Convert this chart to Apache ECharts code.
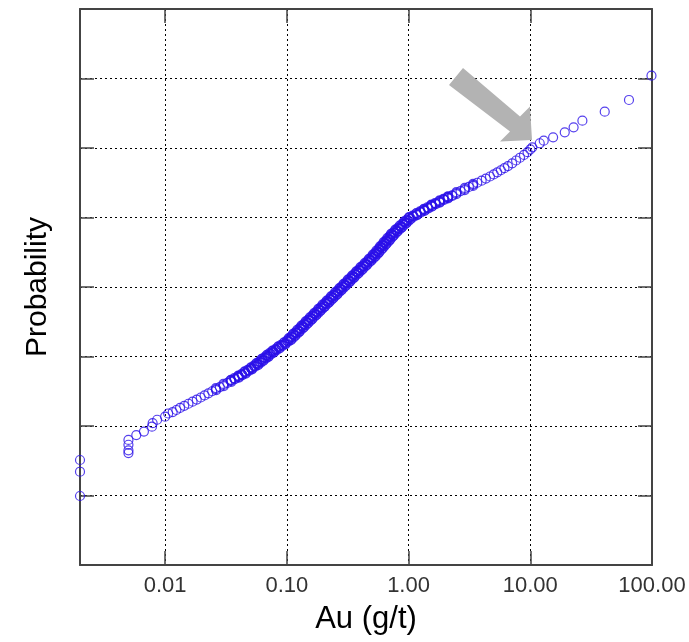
<!DOCTYPE html>
<html><head><meta charset="utf-8">
<script src="https://cdn.jsdelivr.net/npm/echarts@6/dist/echarts.min.js"></script>
<style>html,body{margin:0;padding:0;background:#fff}#c{width:689px;height:642px}</style>
</head><body><div id="c"></div>
<script>
// x-axis tick values and their printed labels
const xTickValues = [0.01, 0.1, 1, 10, 100];
const xTickLabels = ['0.01', '0.10', '1.00', '10.00', '100.00'];

// Au grades (g/t)
const auValues = [
  0.002, 0.002, 0.002,
  0.005, 0.005, 0.005, 0.005,
  0.0058, 0.0067, 0.0078, 0.0079, 0.0086, 0.0100, 0.0106,
  0.01155, 0.01238, 0.01327, 0.01436, 0.01554, 0.01682, 0.01820, 0.01963, 0.02111, 0.02267,
  0.02436, 0.02618, 0.02818, 0.03021, 0.03248, 0.03491, 0.03751, 0.04030, 0.04295, 0.04556,
  0.04833, 0.05128, 0.05436, 0.05717, 0.06004, 0.06308, 0.06626, 0.06960, 0.07311, 0.07722,
  0.08155, 0.08616, 0.09101, 0.09612, 0.1015, 0.1058, 0.1101, 0.1146, 0.1193, 0.1241,
  0.1292, 0.1344, 0.1399, 0.1456, 0.1515, 0.1577, 0.1641, 0.1708, 0.1777, 0.1849,
  0.1924, 0.2002, 0.2084, 0.2169, 0.2257, 0.2350, 0.2445, 0.2545, 0.2648, 0.2755,
  0.2868, 0.2985, 0.3106, 0.3232, 0.3363, 0.3500, 0.3643, 0.3791, 0.3945, 0.4105,
  0.4272, 0.4446, 0.4627, 0.4815, 0.5012, 0.5197, 0.5378, 0.5565, 0.5760, 0.5960,
  0.6167, 0.6383, 0.6605, 0.6834, 0.7073, 0.7318, 0.7607, 0.7932, 0.8270, 0.8623,
  0.8991, 0.9374, 0.9772, 1.019, 1.090, 1.168, 1.253, 1.344, 1.441, 1.545,
  1.667, 1.803, 1.950, 2.110, 2.283, 2.471, 2.675, 2.894, 3.133, 3.392,
  3.668, 3.987, 4.313, 4.666, 5.011, 5.357, 5.731, 6.131, 6.554, 7.10,
  7.65, 8.24, 8.88, 9.50, 10.01, 10.4,
  11.96, 12.9, 15.4, 19.2, 22.7, 26.8, 40.9, 64.7, 99
];

// normal scores (probability axis, in standard deviations)
const zScores = [
  -3.007, -2.658, -2.489,
  -2.39, -2.35, -2.27, -2.20,
  -2.13, -2.08, -2.01, -1.96, -1.91, -1.866, -1.82,
  -1.80, -1.77, -1.74, -1.71, -1.68, -1.65, -1.62, -1.59, -1.56, -1.53,
  -1.50, -1.47, -1.44, -1.41, -1.38, -1.35, -1.32, -1.29, -1.26, -1.23,
  -1.20, -1.17, -1.14, -1.11, -1.08, -1.05, -1.02, -0.99, -0.96, -0.93,
  -0.90, -0.87, -0.84, -0.81, -0.78, -0.75, -0.72, -0.69, -0.66, -0.63,
  -0.60, -0.57, -0.54, -0.51, -0.48, -0.45, -0.42, -0.39, -0.36, -0.33,
  -0.30, -0.27, -0.24, -0.21, -0.18, -0.15, -0.12, -0.09, -0.06, -0.03,
  0.00, 0.03, 0.06, 0.09, 0.12, 0.15, 0.18, 0.21, 0.24, 0.27,
  0.30, 0.33, 0.36, 0.39, 0.42, 0.45, 0.48, 0.51, 0.54, 0.57,
  0.60, 0.63, 0.66, 0.69, 0.72, 0.75, 0.78, 0.81, 0.84, 0.87,
  0.90, 0.93, 0.96, 0.99, 1.02, 1.05, 1.08, 1.11, 1.14, 1.17,
  1.20, 1.23, 1.26, 1.29, 1.32, 1.35, 1.38, 1.41, 1.44, 1.47,
  1.50, 1.53, 1.56, 1.59, 1.62, 1.65, 1.68, 1.71, 1.74, 1.78,
  1.82, 1.86, 1.90, 1.94, 1.98, 2.01,
  2.068, 2.105, 2.154, 2.226, 2.298, 2.393, 2.522, 2.691, 3.040
];

// further samples in the dense central part of the distribution
const coreAu = [
  0.02628, 0.02609, 0.03037, 0.03009, 0.03504, 0.03476, 0.04046, 0.03996, 0.04603, 0.04507,
  0.05180, 0.05071, 0.05800, 0.05626, 0.06402, 0.06208, 0.07065, 0.06850, 0.07817, 0.07621,
  0.08721, 0.08504, 0.09731, 0.09486, 0.1078, 0.1037, 0.1169, 0.1123, 0.1266, 0.1216,
  0.1371, 0.1317, 0.1485, 0.1426, 0.1608, 0.1545, 0.1742, 0.1673, 0.1886, 0.1811,
  0.2042, 0.1961, 0.2212, 0.2124, 0.2396, 0.2302, 0.2595, 0.2493, 0.2810, 0.2700,
  0.3044, 0.2924, 0.3296, 0.3166, 0.3569, 0.3429, 0.3866, 0.3713, 0.4186, 0.4021,
  0.4533, 0.4356, 0.4910, 0.4717, 0.5309, 0.5076, 0.5691, 0.5436, 0.6094, 0.5821,
  0.6526, 0.6234, 0.6989, 0.6676, 0.7484, 0.7164, 0.8081, 0.7777, 0.8785, 0.8455,
  0.9550, 0.9190, 1.038, 1.012, 1.174, 1.162, 1.350, 1.337, 1.553, 1.542,
  1.804, 1.801, 2.111, 2.109, 2.472, 2.470, 2.896, 2.893, 3.393, 3.389
];
const coreZ = [
  -1.485, -1.455, -1.425, -1.395, -1.365, -1.335, -1.305, -1.275, -1.245, -1.215,
  -1.185, -1.155, -1.125, -1.095, -1.065, -1.035, -1.005, -0.975, -0.945, -0.915,
  -0.885, -0.855, -0.825, -0.795, -0.765, -0.735, -0.705, -0.675, -0.645, -0.615,
  -0.585, -0.555, -0.525, -0.495, -0.465, -0.435, -0.405, -0.375, -0.345, -0.315,
  -0.285, -0.255, -0.225, -0.195, -0.165, -0.135, -0.105, -0.075, -0.045, -0.015,
  0.015, 0.045, 0.075, 0.105, 0.135, 0.165, 0.195, 0.225, 0.255, 0.285,
  0.315, 0.345, 0.375, 0.405, 0.435, 0.465, 0.495, 0.525, 0.555, 0.585,
  0.615, 0.645, 0.675, 0.705, 0.735, 0.765, 0.795, 0.825, 0.855, 0.885,
  0.915, 0.945, 0.975, 1.005, 1.035, 1.065, 1.095, 1.125, 1.155, 1.185,
  1.215, 1.245, 1.275, 1.305, 1.335, 1.365, 1.395, 1.425, 1.455, 1.485
];

// the most crowded stretch of the band (left and right edges of the band)
const bandLeftAu = [
  0.03439, 0.03695, 0.03970, 0.04231, 0.04488, 0.04760, 0.05051, 0.05354, 0.05631, 0.05914,
  0.06213, 0.06527, 0.06856, 0.07201, 0.07606, 0.08033, 0.08487, 0.08964, 0.09468, 0.1000,
  0.1042, 0.1084, 0.1129, 0.1175, 0.1222, 0.1273, 0.1324, 0.1378, 0.1434, 0.1492,
  0.1553, 0.1616, 0.1682, 0.1750, 0.1821, 0.1895, 0.1972, 0.2053, 0.2136, 0.2223,
  0.2315, 0.2408, 0.2507, 0.2608, 0.2714, 0.2825, 0.2940, 0.3059, 0.3184, 0.3313,
  0.3448, 0.3588, 0.3734, 0.3886, 0.4043, 0.4208, 0.4379, 0.4558, 0.4743, 0.4937,
  0.5119, 0.5297, 0.5482, 0.5674, 0.5871, 0.6074, 0.6287, 0.6506, 0.6731, 0.6967,
  0.7208, 0.7493, 0.7813, 0.8146, 0.8494, 0.8856, 0.9233, 0.9625, 1.004, 1.079,
  1.156, 1.240, 1.331, 1.427, 1.530, 1.650, 1.785, 1.931, 2.089
];
const bandLeftZ = [
  -1.3425, -1.3125, -1.2825, -1.2525, -1.2225, -1.1925, -1.1625, -1.1325, -1.1025, -1.0725,
  -1.0425, -1.0125, -0.9825, -0.9525, -0.9225, -0.8925, -0.8625, -0.8325, -0.8025, -0.7725,
  -0.7425, -0.7125, -0.6825, -0.6525, -0.6225, -0.5925, -0.5625, -0.5325, -0.5025, -0.4725,
  -0.4425, -0.4125, -0.3825, -0.3525, -0.3225, -0.2925, -0.2625, -0.2325, -0.2025, -0.1725,
  -0.1425, -0.1125, -0.0825, -0.0525, -0.0225, 0.0075, 0.0375, 0.0675, 0.0975, 0.1275,
  0.1575, 0.1875, 0.2175, 0.2475, 0.2775, 0.3075, 0.3375, 0.3675, 0.3975, 0.4275,
  0.4575, 0.4875, 0.5175, 0.5475, 0.5775, 0.6075, 0.6375, 0.6675, 0.6975, 0.7275,
  0.7575, 0.7875, 0.8175, 0.8475, 0.8775, 0.9075, 0.9375, 0.9675, 0.9975, 1.0275,
  1.0575, 1.0875, 1.1175, 1.1475, 1.1775, 1.2075, 1.2375, 1.2675, 1.2975
];
const bandRightAu = [
  0.03735, 0.04014, 0.04312, 0.04596, 0.04875, 0.05171, 0.05487, 0.05817, 0.06117, 0.06424,
  0.06750, 0.07090, 0.07447, 0.07823, 0.08263, 0.08726, 0.09219, 0.09738, 0.1028, 0.1086,
  0.1132, 0.1178, 0.1226, 0.1277, 0.1328, 0.1382, 0.1438, 0.1497, 0.1558, 0.1621,
  0.1687, 0.1756, 0.1828, 0.1901, 0.1978, 0.2059, 0.2142, 0.2230, 0.2321, 0.2415,
  0.2515, 0.2616, 0.2723, 0.2833, 0.2948, 0.3069, 0.3194, 0.3323, 0.3458, 0.3598,
  0.3745, 0.3898, 0.4056, 0.4221, 0.4392, 0.4571, 0.4757, 0.4951, 0.5152, 0.5363,
  0.5561, 0.5754, 0.5955, 0.6163, 0.6377, 0.6599, 0.6830, 0.7067, 0.7312, 0.7568,
  0.7830, 0.8139, 0.8487, 0.8849, 0.9227, 0.9620, 1.003, 1.046, 1.106, 1.183,
  1.267, 1.360, 1.458, 1.563, 1.676, 1.809, 1.956, 2.116, 2.289
];
const bandRightZ = [
  -1.3275, -1.2975, -1.2675, -1.2375, -1.2075, -1.1775, -1.1475, -1.1175, -1.0875, -1.0575,
  -1.0275, -0.9975, -0.9675, -0.9375, -0.9075, -0.8775, -0.8475, -0.8175, -0.7875, -0.7575,
  -0.7275, -0.6975, -0.6675, -0.6375, -0.6075, -0.5775, -0.5475, -0.5175, -0.4875, -0.4575,
  -0.4275, -0.3975, -0.3675, -0.3375, -0.3075, -0.2775, -0.2475, -0.2175, -0.1875, -0.1575,
  -0.1275, -0.0975, -0.0675, -0.0375, -0.0075, 0.0225, 0.0525, 0.0825, 0.1125, 0.1425,
  0.1725, 0.2025, 0.2325, 0.2625, 0.2925, 0.3225, 0.3525, 0.3825, 0.4125, 0.4425,
  0.4725, 0.5025, 0.5325, 0.5625, 0.5925, 0.6225, 0.6525, 0.6825, 0.7125, 0.7425,
  0.7725, 0.8025, 0.8325, 0.8625, 0.8925, 0.9225, 0.9525, 0.9825, 1.0125, 1.0425,
  1.0725, 1.1025, 1.1325, 1.1625, 1.1925, 1.2225, 1.2525, 1.2825, 1.3125
];

function pairs(xs, ys) { return xs.map((v, i) => [v, ys[i]]); }
const points = pairs(auValues, zScores)
  .concat(pairs(coreAu, coreZ))
  .concat(pairs(bandLeftAu, bandLeftZ))
  .concat(pairs(bandRightAu, bandRightZ));

const FONT = '"Liberation Sans", Arial, sans-serif';
const AXIS_COLOR = '#444';
const gridDash = { color: '#000', width: 1, type: [2, 3] };

function tickLabel(v) {
  for (let i = 0; i < xTickValues.length; i++) {
    if (Math.abs(Math.log10(v) - Math.log10(xTickValues[i])) < 1e-6) return xTickLabels[i];
  }
  return '';
}

const chart = echarts.init(document.getElementById('c'), null, { renderer: 'canvas' });
chart.setOption({
  animation: false,
  backgroundColor: '#fff',
  grid: { left: 80, right: 37, top: 9, bottom: 77, containLabel: false },
  xAxis: [
    {
      type: 'log', logBase: 10, min: 0.002, max: 100, position: 'bottom',
      name: 'Au (g/t)', nameLocation: 'middle', nameGap: 39,
      nameTextStyle: { fontFamily: FONT, fontSize: 31, color: '#000' },
      axisLine: { show: true, onZero: false, lineStyle: { color: AXIS_COLOR, width: 2 } },
      axisTick: { show: true, inside: true, length: 14, lineStyle: { color: AXIS_COLOR, width: 1.5 } },
      minorTick: { show: false },
      axisLabel: { show: true, margin: 10, fontFamily: FONT, fontSize: 22, color: '#333',
                   formatter: tickLabel, showMinLabel: false },
      splitLine: { show: true, lineStyle: gridDash }
    },
    {
      type: 'log', logBase: 10, min: 0.002, max: 100, position: 'top',
      axisLine: { show: true, onZero: false, lineStyle: { color: AXIS_COLOR, width: 2 } },
      axisTick: { show: true, inside: true, length: 14, lineStyle: { color: AXIS_COLOR, width: 1.5 } },
      axisLabel: { show: false },
      splitLine: { show: false }
    }
  ],
  yAxis: [
    {
      type: 'value', min: -4, max: 4, interval: 1, position: 'left',
      name: 'Probability', nameLocation: 'middle', nameGap: 27,
      nameTextStyle: { fontFamily: FONT, fontSize: 30, color: '#000' },
      axisLine: { show: true, onZero: false, lineStyle: { color: AXIS_COLOR, width: 2 } },
      axisTick: { show: true, inside: true, length: 14, lineStyle: { color: AXIS_COLOR, width: 1.5 } },
      axisLabel: { show: false },
      splitLine: { show: true, lineStyle: gridDash }
    },
    {
      type: 'value', min: -4, max: 4, interval: 1, position: 'right',
      axisLine: { show: true, onZero: false, lineStyle: { color: AXIS_COLOR, width: 2 } },
      axisTick: { show: true, inside: true, length: 14, lineStyle: { color: AXIS_COLOR, width: 1.5 } },
      axisLabel: { show: false },
      splitLine: { show: false }
    }
  ],
  graphic: [
    {
      type: 'polygon', z: 100,
      shape: { points: [[463, 68], [520, 116.5], [530, 106.5], [532, 140], [500, 141.5], [510, 131.5], [449, 85]] },
      style: { fill: '#b3b3b3', stroke: null }
    }
  ],
  series: [
    {
      type: 'scatter', xAxisIndex: 0, yAxisIndex: 0, clip: false,
      symbol: 'circle', symbolSize: 9, large: false,
      itemStyle: { color: 'rgba(0,0,0,0)', borderColor: '#2a10e8', borderWidth: 1.2 },
      data: points
    }
  ]
});
</script>
</body></html>
